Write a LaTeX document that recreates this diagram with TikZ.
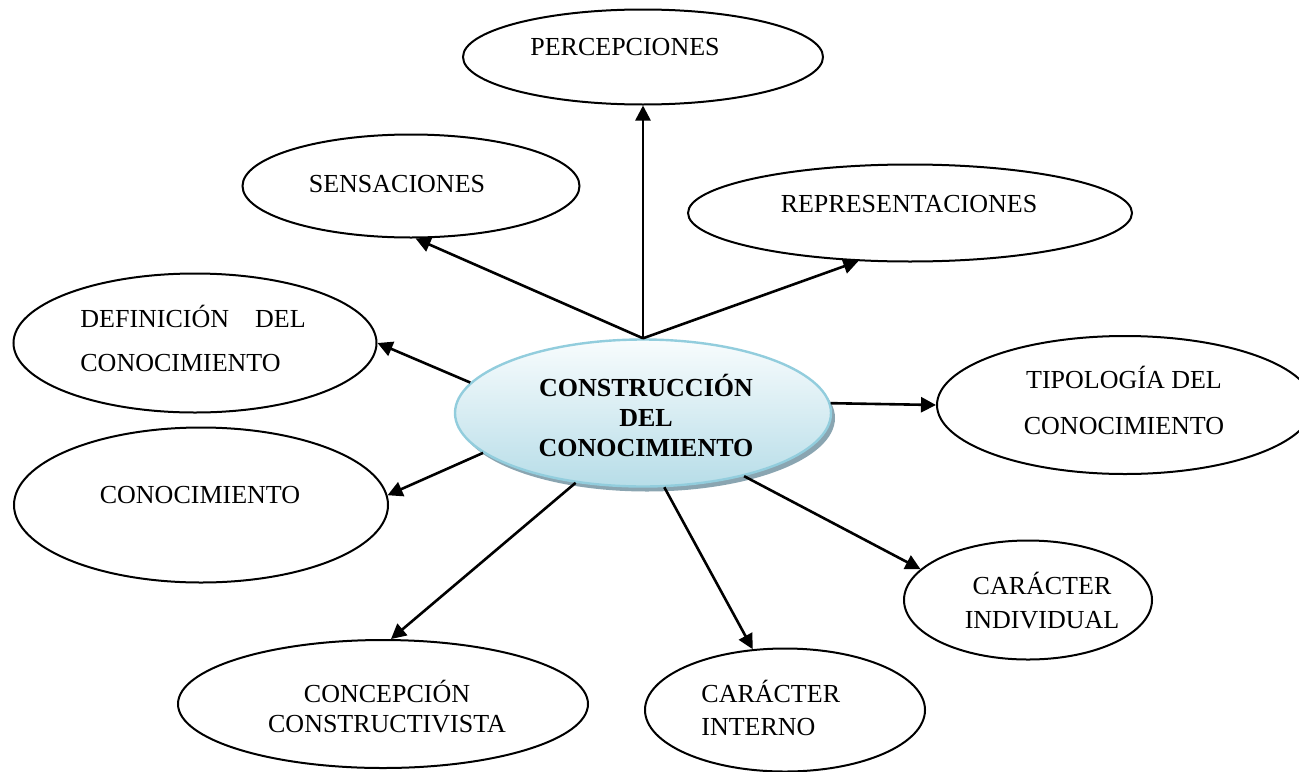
\documentclass[tikz,border=0pt]{standalone}
\usepackage{fontspec}
\setmainfont{Liberation Serif}
\usepackage{xcolor}
\definecolor{Black}{RGB}{0,0,0}
\definecolor{White}{RGB}{255,255,255}
\definecolor{LightBlue}{RGB}{183,221,232}
\definecolor{PaleBlue}{RGB}{248,252,253}
\definecolor{EdgeBlue}{RGB}{146,205,221}
\definecolor{ShadowBlue}{RGB}{125,155,168}
\usetikzlibrary{shapes.geometric,arrows.meta,shadows}

\begin{document}
\begin{tikzpicture}[x=0.5pt, y=-0.5pt,
	bubble/.style={ellipse, draw=Black, line width=1pt, inner sep=0pt},
	hub/.style={ellipse, inner sep=0pt, draw=EdgeBlue, line width=1.2pt, top color=PaleBlue, bottom color=LightBlue,
		drop shadow={shadow xshift=2pt, shadow yshift=-2.5pt, fill=ShadowBlue, opacity=0.9}},
	txt/.style={font=\fontsize{13}{15}\selectfont, inner sep=0pt, anchor=base, align=center},
	link/.style={-{Triangle[length=7.5pt,width=7.5pt]}, line width=1.3pt, draw=Black}]
		
		\clip (0,0) rectangle (1299,771);
		
		% Ellipses
		\node[hub, minimum width=188pt, minimum height=73.5pt] (ctr) at (643,413) {};
		\node[bubble, minimum width=180pt, minimum height=47.5pt] (perc) at (643,57) {};
		\node[bubble, minimum width=168.5pt, minimum height=51.5pt] (sens) at (411,186) {};
		\node[bubble, minimum width=222pt, minimum height=48.5pt] (repr) at (910,213) {};
		\node[bubble, minimum width=181.5pt, minimum height=69.5pt] (defi) at (195,343) {};
		\node[bubble, minimum width=188pt, minimum height=69pt] (tipo) at (1125,405) {};
		\node[bubble, minimum width=187pt, minimum height=77.5pt] (conoc) at (201,505) {};
		\node[bubble, minimum width=124pt, minimum height=59.5pt] (cind) at (1028,600) {};
		\node[bubble, minimum width=205pt, minimum height=64pt] (conc) at (383,704) {};
		\node[bubble, minimum width=140pt, minimum height=61.5pt] (cint) at (785,710) {};
		
		% Arrows
		\draw[link] (ctr.north) -- (perc.south);
		\draw[link] (ctr.north) -- (sens.-85);
		\draw[link] (ctr.north) -- (repr.-137);
		\draw[link] (ctr.170) -- (defi.east);
		\draw[link] (ctr.3) -- (tipo.west);
		\draw[link] (ctr.194) -- (conoc.3);
		\draw[link] (ctr.226) -- (conc.83);
		\draw[link] (ctr.-74) -- (cint.118);
		\draw[link] (ctr.-32) -- (cind.164);
		
		% Text (base = last line)
		\node[txt] (percT) at (625,55) {PERCEPCIONES};
		\node[txt] (sensT) at (397,192) {SENSACIONES};
		\node[txt] (reprT) at (909,212) {REPRESENTACIONES};
		\node[txt, anchor=base west, align=left] (defiT) at (80,371) {DEFINICIÓN\quad DEL\\[7pt]CONOCIMIENTO};
		\node[txt, font=\fontsize{13}{15}\selectfont\bfseries] (ctrT) at (646,456) {CONSTRUCCIÓN\\DEL\\CONOCIMIENTO};
		\node[txt] (tipoT) at (1124,434) {TIPOLOGÍA DEL\\[8pt]CONOCIMIENTO};
		\node[txt] (conocT) at (200,503) {CONOCIMIENTO};
		\node[txt] (cindT) at (1042,628) {CARÁCTER\\[2pt]INDIVIDUAL};
		\node[txt] (concT) at (387,732) {CONCEPCIÓN\\CONSTRUCTIVISTA};
		\node[txt, anchor=base west, align=left] (cintT) at (701,735) {CARÁCTER\\[1.5pt]INTERNO};
		
	\end{tikzpicture}
\end{document}
